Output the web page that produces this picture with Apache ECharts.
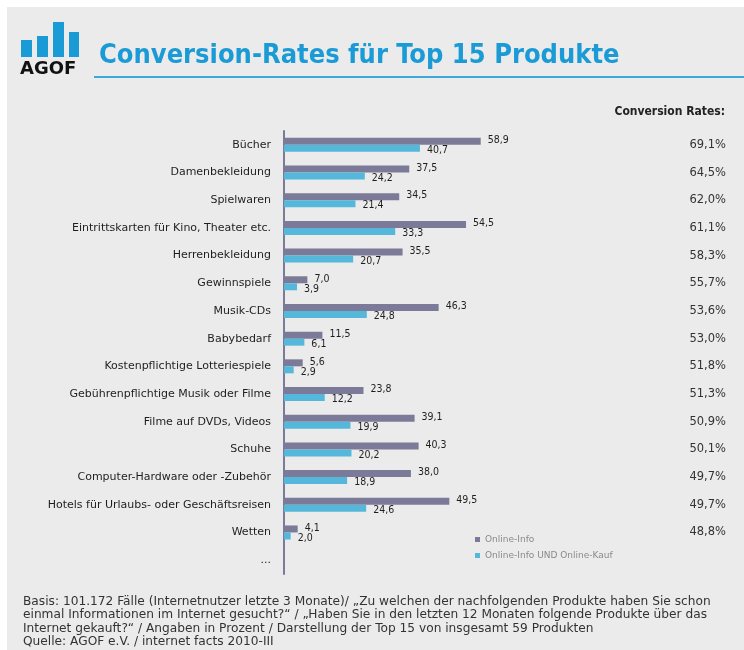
<!DOCTYPE html>
<html>
<head>
<meta charset="utf-8">
<script src="https://cdn.jsdelivr.net/npm/echarts@6/dist/echarts.min.js"></script>
<style>
html,body{margin:0;padding:0;background:#fff;}
#chart{width:744px;height:650px;}
</style>
</head>
<body>
<div id="chart"></div>
<script>
var categories = ['Bücher','Damenbekleidung','Spielwaren','Eintrittskarten für Kino, Theater etc.','Herrenbekleidung','Gewinnspiele','Musik-CDs','Babybedarf','Kostenpflichtige Lotteriespiele','Gebührenpflichtige Musik oder Filme','Filme auf DVDs, Videos','Schuhe','Computer-Hardware oder -Zubehör','Hotels für Urlaubs- oder Geschäftsreisen','Wetten','...'];
var onlineInfo = [58.9,37.5,34.5,54.5,35.5,7.0,46.3,11.5,5.6,23.8,39.1,40.3,38.0,49.5,4.1,null];
var onlineKauf = [40.7,24.2,21.4,33.3,20.7,3.9,24.8,6.1,2.9,12.2,19.9,20.2,18.9,24.6,2.0,null];
var conversionRates = [69.1,64.5,62.0,61.1,58.3,55.7,53.6,53.0,51.8,51.3,50.9,50.1,49.7,49.7,48.8,null];
var seriesNames = ['Online-Info','Online-Info UND Online-Kauf'];

function de(v){ return v == null ? '' : v.toFixed(1).replace('.', ','); }

var chart = echarts.init(document.getElementById('chart'), null, {renderer:'canvas'});
var blue = '#1b9bd6';
var grayBar = '#7b7a98';
var lightBar = '#55b8da';
var footer = 'Basis: 101.172 Fälle (Internetnutzer letzte 3 Monate)/ „Zu welchen der nachfolgenden Produkte haben Sie schon\n' +
  'einmal Informationen im Internet gesucht?“ / „Haben Sie in den letzten 12 Monaten folgende Produkte über das\n' +
  'Internet gekauft?“ / Angaben in Prozent / Darstellung der Top 15 von insgesamt 59 Produkten\n' +
  'Quelle: AGOF e.V. / internet facts 2010-III';

chart.setOption({
  backgroundColor: '#ffffff',
  animation: false,
  graphic: [
    {type:'rect', shape:{x:7,y:7,width:737,height:643}, style:{fill:'#ebebeb'}, z:-10},
    {type:'rect', shape:{x:21,y:40,width:11,height:17}, style:{fill:blue}},
    {type:'rect', shape:{x:37,y:36,width:11,height:21}, style:{fill:blue}},
    {type:'rect', shape:{x:53,y:22,width:11,height:35}, style:{fill:blue}},
    {type:'rect', shape:{x:69,y:32,width:10,height:25}, style:{fill:blue}},
    {type:'text', left:20, top:60, style:{text:'AGOF', fill:'#111', font:'bold 18px "DejaVu Sans"'}},
    {type:'rect', shape:{x:94,y:76,width:650,height:2}, style:{fill:'#3aa8d8'}}
  ],
  title: [
    {text:'Conversion-Rates für Top 15 Produkte', left:94, top:37,
     textStyle:{color:blue, fontSize:27, fontWeight:'bold', fontFamily:'"DejaVu Sans Condensed", "DejaVu Sans"'}},
    {text:'Conversion Rates:', right:14, top:101,
     textStyle:{color:'#222', fontSize:12, fontWeight:'bold', fontFamily:'"DejaVu Sans Condensed", "DejaVu Sans"'}},
    {text:footer, left:18, top:590,
     textStyle:{color:'#333', fontSize:12.2, fontWeight:'normal', lineHeight:13.4, fontFamily:'"DejaVu Sans"'}}
  ],
  legend: {
    orient:'vertical', left:470, top:530, itemWidth:5, itemHeight:5, itemGap:7,
    icon:'rect',
    textStyle:{color:'#8a8a8a', fontSize:9, fontFamily:'"DejaVu Sans"'},
    data: seriesNames
  },
  grid: {left:284, top:131, width:334, height:443, containLabel:false},
  xAxis: {type:'value', min:0, max:100, show:false},
  yAxis: [
    {type:'category', data:categories, inverse:true,
     axisLine:{show:true, lineStyle:{color:'#7b7a98', width:2}},
     axisTick:{show:false}, splitLine:{show:false},
     axisLabel:{margin:13, color:'#1e1e1e', fontSize:11, fontFamily:'"DejaVu Sans"'}},
    {type:'category', data:conversionRates.map(function(v){return v==null?'':de(v)+'%';}), inverse:true,
     position:'right', offset:70,
     axisLine:{show:false}, axisTick:{show:false}, splitLine:{show:false},
     axisLabel:{align:'right', margin:38, color:'#333', fontSize:11.5, fontFamily:'"DejaVu Sans"'}}
  ],
  series: [
    {name:seriesNames[0], type:'bar', data:onlineInfo, barWidth:7, barGap:'0%',
     itemStyle:{color:grayBar},
     label:{show:true, position:'right', distance:7, offset:[0,-1], color:'#1e1e1e', fontSize:10.5,
       fontFamily:'"DejaVu Sans Condensed", "DejaVu Sans"', formatter:function(p){return de(p.value);}}},
    {name:seriesNames[1], type:'bar', data:onlineKauf, barWidth:7,
     itemStyle:{color:lightBar},
     label:{show:true, position:'right', distance:7, offset:[0,2], color:'#1e1e1e', fontSize:10.5,
       fontFamily:'"DejaVu Sans Condensed", "DejaVu Sans"', formatter:function(p){return de(p.value);}}}
  ]
});
</script>
</body>
</html>
